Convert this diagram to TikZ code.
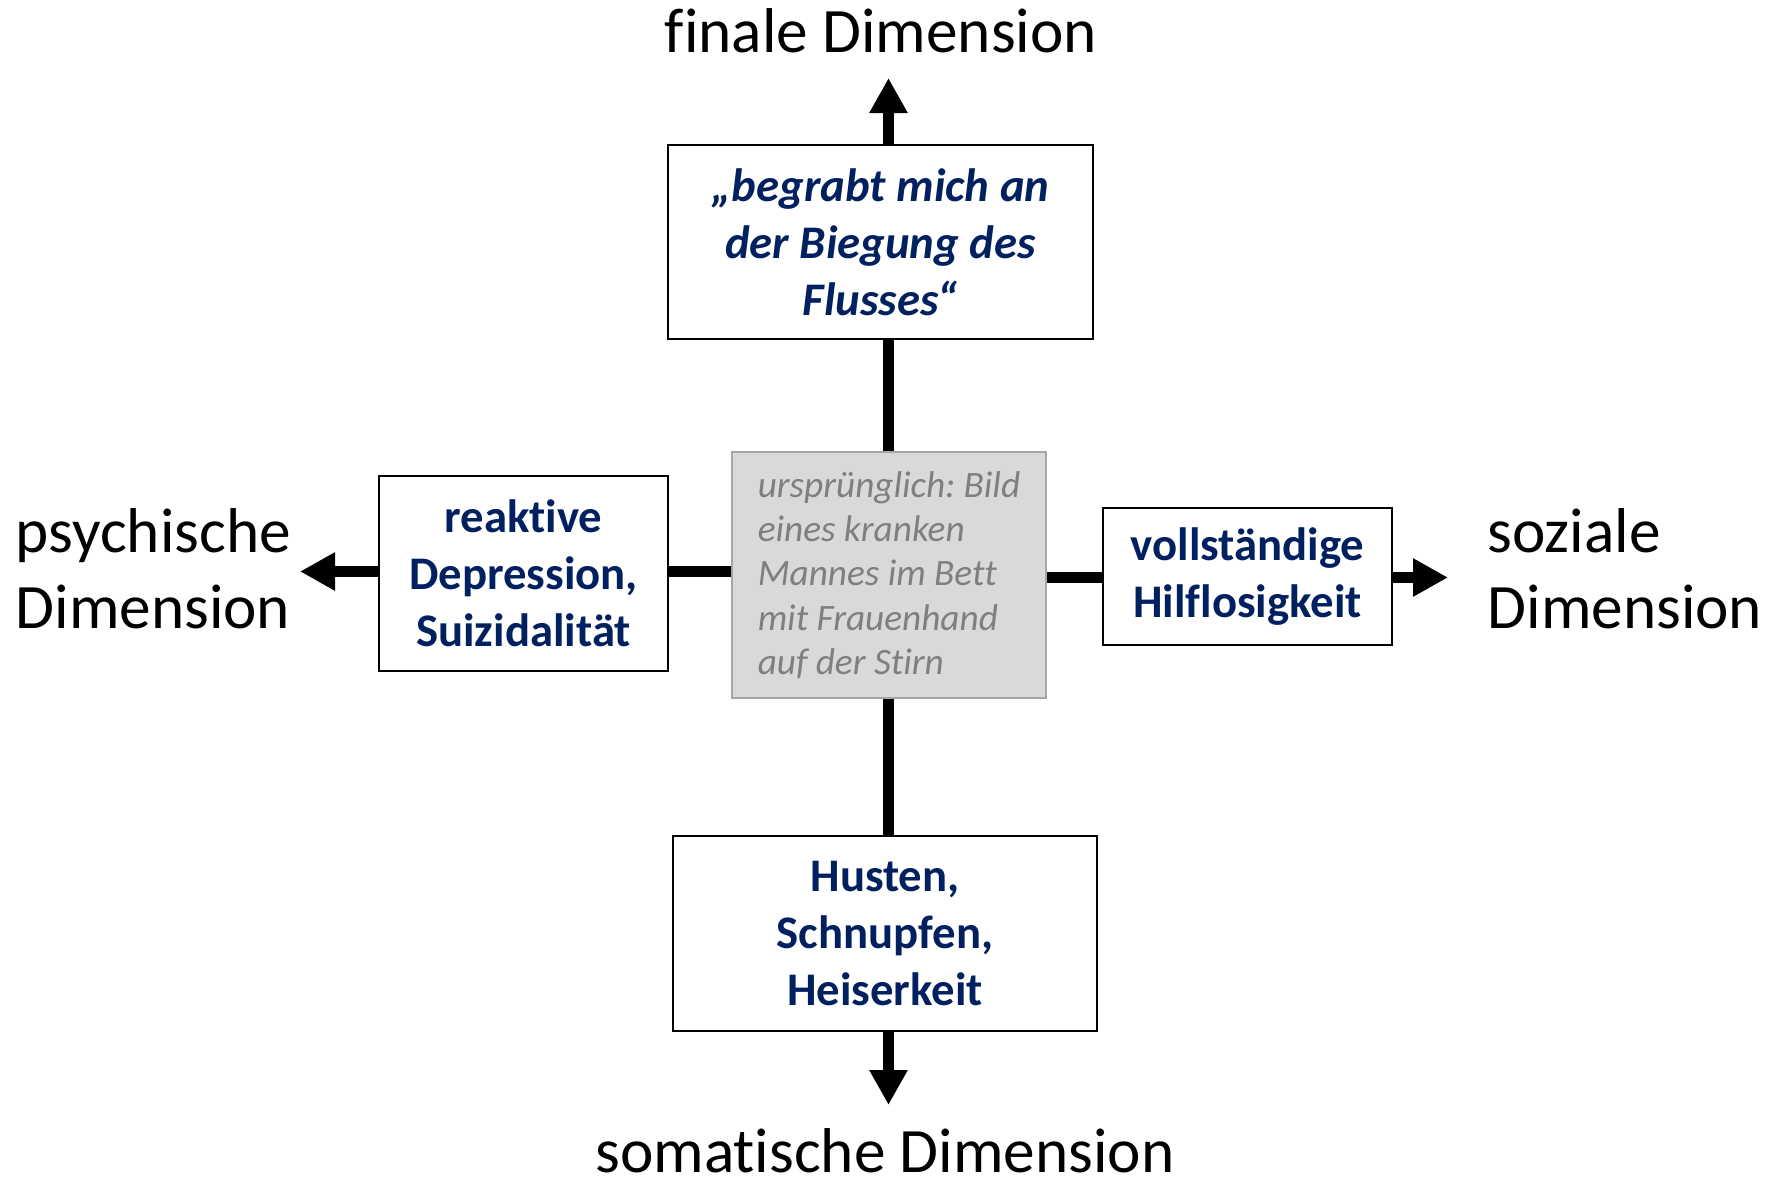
\documentclass[tikz,border=0pt]{standalone}
\usepackage{fontspec}
\setmainfont{Carlito}[Ligatures={NoCommon,NoRequired}, Contextuals=NoAlternate]
\usetikzlibrary{arrows.meta, positioning}
\definecolor{dunkelblau}{HTML}{002060}
\definecolor{bildgrau}{HTML}{D9D9D9}
\definecolor{randgrau}{HTML}{A6A6A6}
\definecolor{textgrau}{HTML}{7F7F7F}
\frenchspacing

\begin{document}
\begin{tikzpicture}[font=\fontsize{18}{21.5}\selectfont]
    \tikzstyle{achse} = [line width=0.11cm, black]
    \tikzstyle{pfeil} = [achse, -{Triangle[length=0.35cm, width=0.36cm]}]
    \tikzstyle{dimbox} = [rectangle, draw, line width=0.6pt, fill=white, align=center, text=dunkelblau, font=\fontsize{13.3}{16.2}\selectfont\bfseries, inner sep=0pt]
    \tikzstyle{bildbox} = [rectangle, draw=randgrau, line width=0.6pt, fill=bildgrau, align=left, text=textgrau, font=\fontsize{10.6}{12.6}\selectfont\itshape, minimum width=3.14cm, minimum height=2.46cm]
    \tikzstyle{dimlabel} = [inner sep=0pt, align=left]
    \useasboundingbox (0,0) rectangle (17.83,11.82);

\node[bildbox] (bild) at (8.89,6.07) {ursprünglich: Bild\\eines kranken\\Mannes im Bett\\mit Frauenhand\\auf der Stirn};
\node[dimbox, minimum width=4.25cm, minimum height=1.94cm, font=\fontsize{13.3}{16.2}\selectfont\bfseries\itshape] (final) at (8.805,9.40) {„begrabt mich an\\der Biegung des\\Flusses“};
\node[dimbox, minimum width=2.89cm, minimum height=1.95cm] (psychbox) at (5.235,6.085) {reaktive\\Depression,\\Suizidalität};
\node[dimbox, minimum width=2.89cm, minimum height=1.37cm] (sozbox) at (12.475,6.055) {vollständige\\Hilflosigkeit};
\node[dimbox, minimum width=4.24cm, minimum height=1.95cm] (somabox) at (8.85,2.485) {Husten,\\Schnupfen,\\Heiserkeit};

% Achsen
\coordinate (finalspitze) at (8.885,11.04);
\coordinate (somaspitze) at (8.885,0.77);
\coordinate (psychspitze) at (3.00,6.105);
\coordinate (sozspitze) at (14.48,6.045);
\draw[pfeil] (finalspitze |- final.north) -- (finalspitze);
\draw[achse] (finalspitze |- final.south) -- (finalspitze |- bild.north);
\draw[achse] (somaspitze |- bild.south) -- (somaspitze |- somabox.north);
\draw[pfeil] (somaspitze |- somabox.south) -- (somaspitze);
\draw[achse] (bild.west |- psychspitze) -- (psychbox.east |- psychspitze);
\draw[pfeil] (psychbox.west |- psychspitze) -- (psychspitze);
\draw[achse] (bild.east |- sozspitze) -- (sozbox.west |- sozspitze);
\draw[pfeil] (sozbox.east |- sozspitze) -- (sozspitze);

\node[dimlabel, anchor=base] (finallabel) at (8.81,11.30) {finale Dimension};
\node[dimlabel, anchor=base] (somalabel) at (8.85,0.10) {somatische Dimension};
\node[dimlabel, anchor=base west] (psychlabel) at (0.15,5.54) {psychische\\Dimension};
\node[dimlabel, anchor=base west] (sozlabel) at (14.87,5.54) {soziale\\Dimension};
\end{tikzpicture}
\end{document}
